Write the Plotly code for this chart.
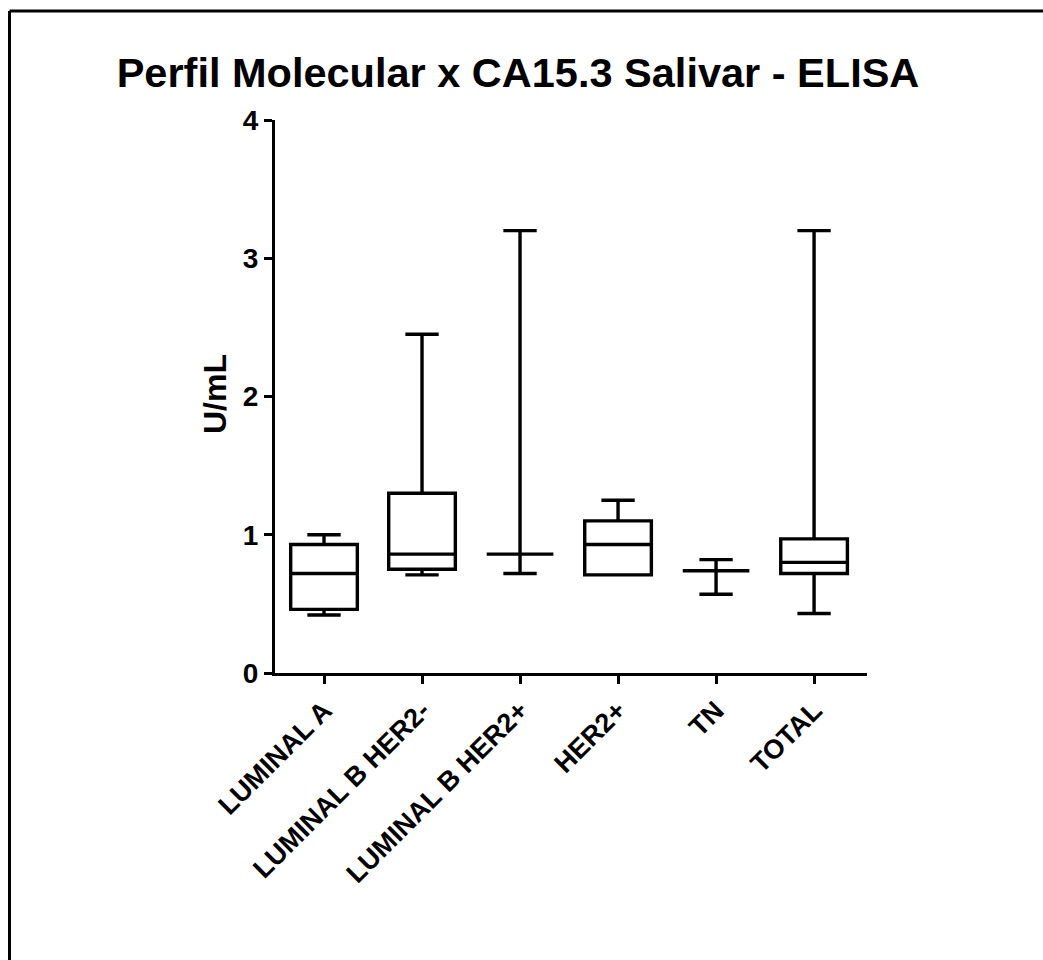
import plotly.graph_objects as go

# Salivary CA15.3 (U/mL) by molecular subtype – box summary statistics
categories = ["LUMINAL A", "LUMINAL B HER2-", "LUMINAL B HER2+", "HER2+", "TN", "TOTAL"]
minimum = [0.42, 0.71, 0.72, 0.71, 0.57, 0.43]
q1 = [0.46, 0.75, 0.86, 0.71, 0.74, 0.72]
median = [0.72, 0.86, 0.86, 0.93, 0.74, 0.80]
q3 = [0.93, 1.30, 0.86, 1.10, 0.74, 0.97]
maximum = [1.00, 2.45, 3.20, 1.25, 0.82, 3.20]

y_ticks = [0, 1, 2, 3, 4]

W, H = 1043, 960
M_L, M_R, M_T, M_B = 275, 176, 120, 287
FONT = "Arial, 'Liberation Sans', sans-serif"

fig = go.Figure()
fig.add_trace(go.Box(
    x=categories,
    q1=q1,
    median=median,
    q3=q3,
    lowerfence=minimum,
    upperfence=maximum,
    boxpoints=False,
    width=0.68,
    whiskerwidth=0.5,
    fillcolor="white",
    line=dict(color="black", width=3.4),
    showlegend=False,
))

pw = W - M_L - M_R
ph = H - M_T - M_B


def px_x(p):
    return (p - M_L) / pw


def px_y(p):
    return (H - M_B - p) / ph


# Frame lines along the top and left edges of the figure
frame = dict(type="line", xref="paper", yref="paper", line=dict(color="black", width=3))
fig.add_shape(**frame, x0=px_x(9.5), x1=px_x(W + 5), y0=px_y(11), y1=px_y(11))
fig.add_shape(**frame, x0=px_x(9.5), x1=px_x(9.5), y0=px_y(11), y1=px_y(H + 5))

fig.add_annotation(
    text="U/mL", textangle=-90, showarrow=False,
    xref="paper", yref="paper", x=px_x(215), y=px_y(394),
    xanchor="center", yanchor="middle",
    font=dict(family=FONT, size=32, color="black", weight="bold"),
)

fig.update_layout(
    width=W, height=H,
    margin=dict(l=M_L, r=M_R, t=M_T, b=M_B),
    paper_bgcolor="white", plot_bgcolor="white",
    title=dict(
        text="Perfil Molecular x CA15.3 Salivar - ELISA",
        x=518 / W, xanchor="center", xref="container",
        y=1 - 72 / H, yanchor="middle", yref="container",
        font=dict(family=FONT, size=41.5, color="black", weight="bold"),
    ),
    xaxis=dict(
        type="category", range=[-0.5, 5.54],
        showline=True, linecolor="black", linewidth=3,
        ticks="outside", ticklen=8, tickwidth=3, tickcolor="black",
        tickangle=-45, showgrid=False, zeroline=False,
        tickfont=dict(family=FONT, size=27, color="black", weight="bold"),
    ),
    yaxis=dict(
        range=[0, 4], tickvals=y_ticks,
        showline=True, linecolor="black", linewidth=3,
        ticks="outside", ticklen=8, tickwidth=3, tickcolor="black",
        showgrid=False, zeroline=False,
        tickfont=dict(family=FONT, size=28, color="black", weight="bold"),
    ),
)

fig.write_html("out.html", config={"displayModeBar": False})
